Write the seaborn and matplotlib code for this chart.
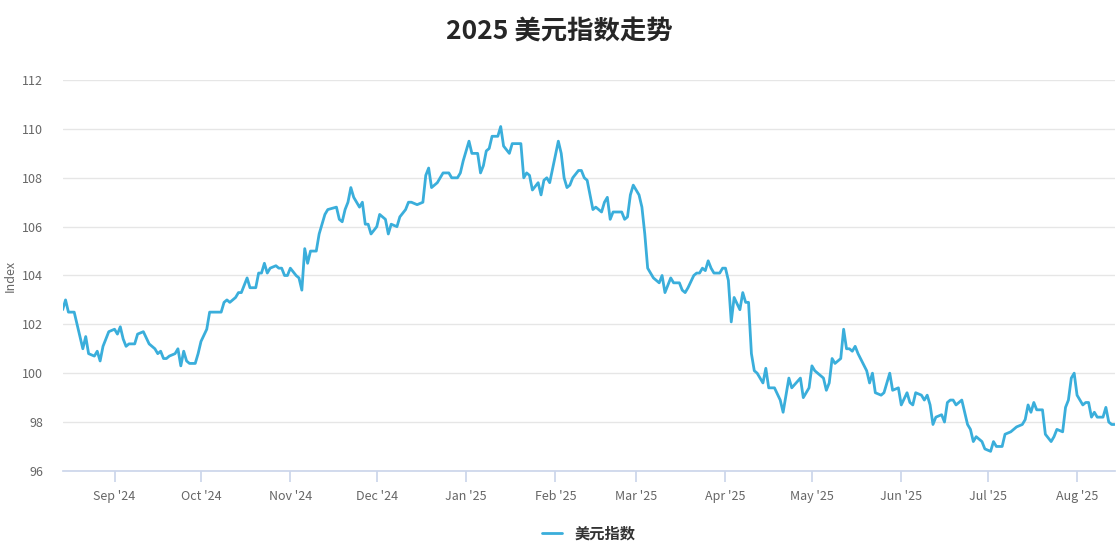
import numpy as np
import pandas as pd
import matplotlib
matplotlib.use("Agg")
import matplotlib.pyplot as plt
import matplotlib.dates as mdates
import seaborn as sns

start_date = "2024-08-14"
day_offsets = [0,1,2,4,5,7,8,9,11,12,13,14,15,16,18,19,20,21,22,23,25,26,28,30,32,33,34,35,36,37,39,40,41,42,43,44,46,47,48,50,51,53,55,56,57,58,60,61,62,64,65,67,68,69,70,71,72,74,75,76,77,78,79,81,82,83,84,85,86,88,89,91,92,95,96,97,98,99,100,101,103,104,105,106,107,109,110,112,113,114,116,117,119,120,121,123,125,126,127,128,130,132,134,135,137,138,139,141,142,144,145,146,147,148,149,151,152,153,155,156,159,160,161,162,163,165,166,167,168,169,172,173,174,175,176,177,179,180,181,182,184,185,187,188,189,190,191,192,194,195,196,197,198,200,201,202,203,205,207,208,209,211,212,214,215,216,217,219,220,221,222,223,224,225,226,228,229,230,231,232,233,235,236,237,238,239,240,241,243,244,245,247,249,250,252,253,256,257,259,260,261,264,265,266,267,268,270,271,272,273,274,275,276,279,280,281,282,284,285,287,288,290,291,293,294,295,296,298,299,300,301,302,303,305,306,307,308,309,310,312,314,315,316,317,319,320,322,323,324,326,327,329,331,333,334,335,336,337,338,340,341,343,344,345,347,348,349,350,351,352,354,355,356,357,358,359,361,362,363,364,365]
dxy_values = [102.6,103.0,102.5,102.5,102.0,101.0,101.5,100.8,100.7,100.9,100.5,101.1,101.4,101.7,101.8,101.6,101.9,101.4,101.1,101.2,101.2,101.6,101.7,101.2,101.0,100.8,100.9,100.6,100.6,100.7,100.8,101.0,100.3,100.9,100.5,100.4,100.4,100.8,101.3,101.8,102.5,102.5,102.5,102.9,103.0,102.9,103.1,103.3,103.3,103.9,103.5,103.5,104.1,104.1,104.5,104.1,104.3,104.4,104.3,104.3,104.0,104.0,104.3,104.0,103.9,103.4,105.1,104.5,105.0,105.0,105.7,106.5,106.7,106.8,106.3,106.2,106.7,107.0,107.6,107.2,106.8,107.0,106.1,106.1,105.7,106.0,106.5,106.3,105.7,106.1,106.0,106.4,106.7,107.0,107.0,106.9,107.0,108.1,108.4,107.6,107.8,108.2,108.2,108.0,108.0,108.2,108.7,109.5,109.0,109.0,108.2,108.5,109.1,109.2,109.7,109.7,110.1,109.3,109.0,109.4,109.4,108.0,108.2,108.1,107.5,107.8,107.3,107.9,108.0,107.8,109.5,109.0,108.0,107.6,107.7,108.0,108.3,108.3,108.0,107.9,106.7,106.8,106.6,107.0,107.2,106.3,106.6,106.6,106.6,106.3,106.4,107.3,107.7,107.3,106.8,105.7,104.3,103.9,103.7,104.0,103.3,103.9,103.7,103.7,103.4,103.3,103.5,104.0,104.1,104.1,104.3,104.2,104.6,104.3,104.1,104.1,104.3,104.3,103.8,102.1,103.1,102.6,103.3,102.9,102.9,100.8,100.1,100.0,99.6,100.2,99.4,99.4,98.9,98.4,99.8,99.4,99.8,99.0,99.4,100.3,100.1,99.8,99.3,99.6,100.6,100.4,100.6,101.8,101.0,101.0,100.9,101.1,100.8,100.1,99.6,100.0,99.2,99.1,99.2,100.0,99.3,99.4,98.7,99.2,98.8,98.7,99.2,99.1,98.9,99.1,98.7,97.9,98.2,98.3,98.0,98.8,98.9,98.9,98.7,98.9,97.9,97.7,97.2,97.4,97.2,96.9,96.8,97.2,97.0,97.0,97.5,97.6,97.8,97.9,98.1,98.7,98.4,98.8,98.5,98.5,97.5,97.2,97.4,97.7,97.6,98.6,98.9,99.8,100.0,99.1,98.7,98.8,98.8,98.2,98.4,98.2,98.2,98.6,98.0,97.9,97.9]
series_name = "美元指数"
title_text = "2025 美元指数走势"
y_ticks = [96, 98, 100, 102, 104, 106, 108, 110, 112]

dates = pd.Timestamp(start_date) + pd.to_timedelta(day_offsets, unit="D")
df = pd.DataFrame({"date": dates, "value": dxy_values, "series": series_name})

sns.set_theme(style="white")
plt.rcParams['font.family'] = ['Noto Sans CJK SC', 'DejaVu Sans']

fig = plt.figure(figsize=(11.19, 5.45), dpi=100)
ax = fig.add_axes([0.056, 0.136, 0.94, 0.717])
color = "#3aaedb"
sns.lineplot(data=df, x="date", y="value", hue="series", palette=[color],
             linewidth=2, ax=ax, legend=True)

ax.set_xlim(dates[0], dates[-1])
ax.set_ylim(96, 112)
ax.set_yticks(y_ticks)
ax.yaxis.grid(True, color="#e6e6e6", linewidth=1)
ax.xaxis.grid(False)
for s in ["top", "right", "left"]:
    ax.spines[s].set_visible(False)
ax.spines["bottom"].set_color("#ccd6eb")
ax.xaxis.set_major_locator(mdates.MonthLocator())
ax.xaxis.set_major_formatter(mdates.DateFormatter("%b '%y"))
ax.tick_params(axis="x", colors="#666666", labelsize=9, length=8, color="#ccd6eb", direction="out", bottom=True, pad=6)
ax.tick_params(axis="y", colors="#666666", labelsize=9, length=0, pad=14)
ax.set_xlabel("")
ax.set_ylabel("Index", color="#666666", fontsize=9, labelpad=4)

fig.suptitle(title_text, fontsize=19, fontweight="bold", y=0.965)
leg = ax.legend(loc="upper center", bbox_to_anchor=(0.5, -0.105), frameon=False,
                fontsize=11, handlelength=1.3, title=None)
for t in leg.get_texts():
    t.set_fontweight("bold")
    t.set_color("#333333")

fig.savefig("out.png", dpi=100)
